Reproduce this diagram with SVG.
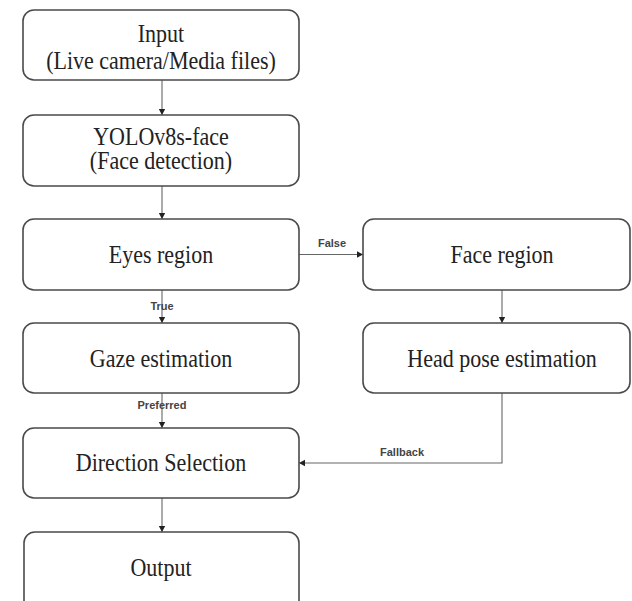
<svg xmlns="http://www.w3.org/2000/svg" width="632" height="601" viewBox="0 0 632 601">
<defs>
<marker id="ah" markerWidth="8" markerHeight="8" refX="7" refY="4" orient="auto" markerUnits="userSpaceOnUse">
<path d="M1,0.8 L7,4 L1,7.2 Z" fill="#222"/>
</marker>
<style>
.box{fill:#fff;stroke:#4a4a4a;stroke-width:1.6}
.t{font-family:"Liberation Serif","Times New Roman",serif;font-size:22px;fill:#222;text-anchor:middle}
.lbl{font-family:"Liberation Sans",Arial,sans-serif;font-size:11px;font-weight:bold;fill:#444;text-anchor:middle}
.c{fill:none;stroke:#666;stroke-width:1.1}
</style>
</defs>
<rect width="632" height="601" fill="#fff"/>
<g id="connectors">
<line class="c" x1="162" y1="80" x2="162" y2="115" marker-end="url(#ah)"/>
<line class="c" x1="162" y1="186" x2="162" y2="219" marker-end="url(#ah)"/>
<line class="c" x1="299" y1="254.5" x2="363" y2="254.5" marker-end="url(#ah)"/>
<line class="c" x1="162" y1="290" x2="162" y2="323" marker-end="url(#ah)"/>
<line class="c" x1="502" y1="290" x2="502" y2="323" marker-end="url(#ah)"/>
<line class="c" x1="162" y1="393" x2="162" y2="428" marker-end="url(#ah)"/>
<polyline class="c" points="502,393 502,463 299,463" marker-end="url(#ah)"/>
<line class="c" x1="162" y1="498" x2="162" y2="532" marker-end="url(#ah)"/>
<text class="lbl" x="332" y="247">False</text>
<text class="lbl" x="162" y="310">True</text>
<text class="lbl" x="162" y="409">Preferred</text>
<text class="lbl" x="402" y="456">Fallback</text>
</g>
<g id="input">
<rect class="box" x="23" y="10" width="276" height="70" rx="11"/>
<text class="t" transform="matrix(1 0 0 1.13 161 42)">Input</text>
<text class="t" transform="matrix(1 0 0 1.13 161 69)">(Live camera/Media files)</text>
</g>
<g id="yolo">
<rect class="box" x="23" y="115" width="276" height="71" rx="11"/>
<text class="t" transform="matrix(1 0 0 1.13 161 145)">YOLOv8s-face</text>
<text class="t" transform="matrix(1 0 0 1.13 161 169)">(Face detection)</text>
</g>
<g id="eyes">
<rect class="box" x="23" y="219" width="276" height="71" rx="11"/>
<text class="t" transform="matrix(1 0 0 1.13 161 263)">Eyes region</text>
</g>
<g id="face">
<rect class="box" x="363" y="219" width="267" height="71" rx="11"/>
<text class="t" transform="matrix(1 0 0 1.13 502 263)">Face region</text>
</g>
<g id="gaze">
<rect class="box" x="23" y="323" width="276" height="70" rx="11"/>
<text class="t" transform="matrix(1 0 0 1.13 161 367)">Gaze estimation</text>
</g>
<g id="headpose">
<rect class="box" x="363" y="323" width="267" height="70" rx="11"/>
<text class="t" transform="matrix(1 0 0 1.13 502 367)">Head pose estimation</text>
</g>
<g id="direction">
<rect class="box" x="23" y="428" width="276" height="70" rx="11"/>
<text class="t" transform="matrix(1 0 0 1.13 161 471)">Direction Selection</text>
</g>
<g id="output">
<rect class="box" x="24" y="532" width="275" height="80" rx="11"/>
<text class="t" transform="matrix(1 0 0 1.13 161 576)">Output</text>
</g>
</svg>
